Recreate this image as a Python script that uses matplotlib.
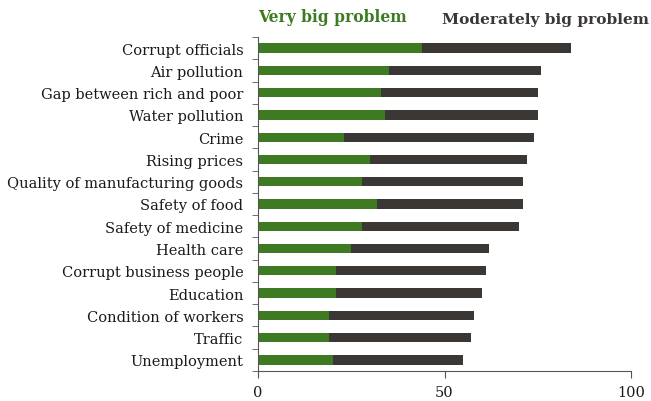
import matplotlib
matplotlib.use("Agg")
import matplotlib.pyplot as plt
import numpy as np

categories = ["Corrupt officials", "Air pollution", "Gap between rich and poor",
              "Water pollution", "Crime", "Rising prices",
              "Quality of manufacturing goods", "Safety of food",
              "Safety of medicine", "Health care", "Corrupt business people",
              "Education", "Condition of workers", "Traffic", "Unemployment"]
very_big = [44, 35, 33, 34, 23, 30, 28, 32, 28, 25, 21, 21, 19, 19, 20]
moderately_big = [40, 41, 42, 41, 51, 42, 43, 39, 42, 37, 40, 39, 39, 38, 35]
x_ticks = [0, 50, 100]

green = "#3d7a22"
dark = "#3b3735"

plt.rcParams['font.family'] = ['DejaVu Serif']
fig = plt.figure(figsize=(6.51, 4.02), dpi=100)
ax = fig.add_axes([258/651, 1-372/402, (631-258)/651, (372-38)/402])

y = np.arange(len(categories))
ax.barh(y, very_big, height=0.42, color=green)
ax.barh(y, moderately_big, left=very_big, height=0.42, color=dark)

ax.set_ylim(len(categories)-0.5, -0.5)
ax.set_xlim(0, 100)
ax.set_yticks(y)
ax.set_yticklabels(categories, fontsize=10.5, color="#1a1a1a")
ax.set_yticks(np.arange(len(categories)+1)-0.5, minor=True)
ax.tick_params(axis='y', which='major', length=0, pad=10.5)
ax.tick_params(axis='y', which='minor', length=4, color="#555555")
ax.set_xticks(x_ticks)
ax.set_xticklabels([str(v) for v in x_ticks], fontsize=10.5, color="#1a1a1a")
ax.tick_params(axis='x', length=5, color="#555555", pad=5)
for s in ['top', 'right']:
    ax.spines[s].set_visible(False)
for s in ['left', 'bottom']:
    ax.spines[s].set_color("#555555")

fig.text(258/651, 1-18/402, "Very big problem", color=green, fontsize=11.2,
         fontweight='bold', va='center', ha='left')
fig.text(442/651, 1-20/402, "Moderately big problem", color=dark, fontsize=11.1,
         fontweight='bold', va='center', ha='left')

fig.savefig("out.png", dpi=100)
